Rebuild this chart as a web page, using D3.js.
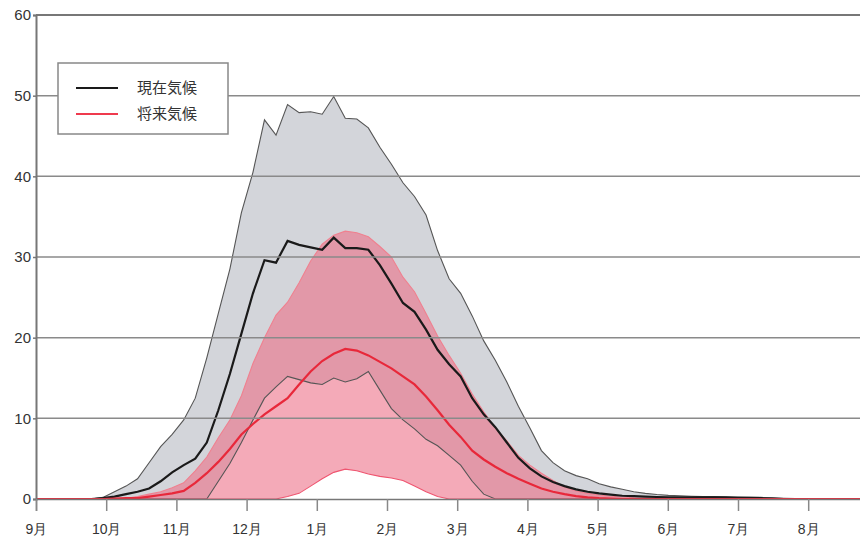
<!DOCTYPE html>
<html><head><meta charset="utf-8">
<script src="https://cdn.jsdelivr.net/npm/d3@7"></script>
<style>
html,body{margin:0;padding:0;background:#fff;}
svg{display:block;font-family:"Noto Sans CJK JP","Noto Sans",sans-serif;}
</style></head>
<body><svg id="chart" width="860" height="544"></svg>
<script>
// month tick labels
const monthLabels = ["9月","10月","11月","12月","1月","2月","3月","4月","5月","6月","7月","8月"];
const yTicks = [0,10,20,30,40,50,60];
const legendLabels = ["現在気候","将来気候"];
// pentad (5-day) series, 73 values from 9月 start
const currentMax = [0,0,0,0,0,0,0.2,0.9,1.6,2.5,4.5,6.5,8.0,9.8,12.5,17.5,23,28.5,35.5,40.5,47.0,45.1,48.9,47.9,48.0,47.7,49.9,47.2,47.1,46.0,43.6,41.5,39.2,37.5,35.2,30.8,27.3,25.5,22.7,19.6,17.2,14.5,11.5,8.8,6.0,4.5,3.5,2.9,2.5,1.9,1.5,1.2,0.9,0.7,0.55,0.45,0.4,0.35,0.3,0.3,0.25,0.25,0.2,0.2,0.15,0.1,0.05,0,0,0,0,0,0];
const currentMean = [0,0,0,0,0,0,0.1,0.3,0.6,0.9,1.3,2.2,3.3,4.2,5.0,7.0,11.0,15.5,20.5,25.5,29.6,29.3,32.0,31.5,31.2,30.9,32.4,31.1,31.1,30.9,29.0,26.7,24.3,23.2,21.0,18.5,16.7,15.2,12.5,10.5,8.9,7.0,5.1,3.8,2.8,2.1,1.6,1.2,0.9,0.7,0.55,0.4,0.35,0.3,0.25,0.2,0.2,0.2,0.2,0.2,0.2,0.15,0.15,0.1,0.05,0,0,0,0,0,0,0,0];
const currentMin = [0,0,0,0,0,0,0,0,0,0,0,0,0,0,0,0,2.2,4.4,7.0,9.8,12.5,13.9,15.2,14.8,14.4,14.2,15.0,14.5,14.9,15.8,13.5,11.2,9.8,8.7,7.4,6.6,5.4,4.2,2.2,0.6,0,0,0,0,0,0,0,0,0,0,0,0,0,0,0,0,0,0,0,0,0,0,0,0,0,0,0,0,0,0,0,0,0];
const futureMax = [0,0,0,0,0,0,0,0,0.1,0.3,0.6,0.9,1.4,2.0,3.5,5.2,7.6,9.8,12.8,16.8,20.0,22.8,24.4,26.8,29.5,31.6,32.7,33.2,33.0,32.5,31.3,30.0,27.5,25.7,23.0,20.2,17.8,15.6,13.0,10.8,8.8,7.2,5.4,4.2,3.2,2.3,1.5,1.0,0.7,0.5,0.35,0.25,0.15,0.1,0.05,0,0,0,0,0,0,0,0,0,0,0,0,0,0,0,0,0,0];
const futureMean = [0,0,0,0,0,0,0,0.05,0.1,0.1,0.3,0.5,0.7,1.0,2.0,3.2,4.6,6.2,8.0,9.3,10.5,11.5,12.5,14.2,15.8,17.1,18.0,18.6,18.4,17.8,17.0,16.2,15.2,14.2,12.7,11.0,9.2,7.7,6.0,4.9,4.0,3.2,2.5,1.9,1.3,0.9,0.6,0.35,0.2,0.1,0.05,0,0,0,0,0,0,0,0,0,0,0,0,0,0,0,0,0,0,0,0,0,0];
const futureMin = [0,0,0,0,0,0,0,0,0,0,0,0,0,0,0,0,0,0,0,0,0,0,0.3,0.7,1.6,2.5,3.3,3.7,3.5,3.1,2.8,2.6,2.3,1.6,0.9,0.3,0,0,0,0,0,0,0,0,0,0,0,0,0,0,0,0,0,0,0,0,0,0,0,0,0,0,0,0,0,0,0,0,0,0,0,0,0];

const svg = d3.select("#chart");
const x0 = 36, xEnd = 36 + 12*70.2;
const xM = d3.scaleLinear().domain([0,12]).range([x0, xEnd]);
const xP = d3.scaleLinear().domain([0.2,73.2]).range([x0, xEnd]);
const y = d3.scaleLinear().domain([0,60]).range([499,15]);
const idx = d3.range(currentMean.length);

svg.append("clipPath").attr("id","pc").append("rect")
  .attr("x",x0).attr("y",0).attr("width",xEnd-x0).attr("height",500);
const plot = svg.append("g").attr("clip-path","url(#pc)");

const band = (lo,hi) => d3.area().x(i=>xP(i)).y0(i=>y(lo[i])).y1(i=>y(hi[i]));
const line = arr => d3.line().x(i=>xP(i)).y(i=>y(arr[i]));

plot.append("path").datum(idx).attr("d",band(currentMin,currentMax)).attr("fill","#d3d5da");
plot.append("path").datum(idx).attr("d",band(futureMin,futureMax)).attr("fill","rgb(236,108,132)").attr("fill-opacity",0.58);

// gridlines
const grid = svg.append("g");
yTicks.filter(t=>t>0).forEach(t=>{
  grid.append("line").attr("x1",x0).attr("x2",860).attr("y1",y(t)).attr("y2",y(t))
    .attr("stroke", t===60 ? "#777" : "#8a8a8a").attr("stroke-width", t===60?2:1.5);
});

plot.append("path").datum(idx).attr("d",line(currentMax)).attr("fill","none").attr("stroke","#555").attr("stroke-width",1.1);
plot.append("path").datum(idx).attr("d",line(currentMin)).attr("fill","none").attr("stroke","#555").attr("stroke-width",1.1);
plot.append("path").datum(idx).attr("d",line(futureMax)).attr("fill","none").attr("stroke","#f0808f").attr("stroke-width",1.1);
plot.append("path").datum(idx).attr("d",line(futureMin)).attr("fill","none").attr("stroke","#ef5570").attr("stroke-width",1.1);
plot.append("path").datum(idx).attr("d",line(currentMean)).attr("fill","none").attr("stroke","#1a1a1a").attr("stroke-width",2.2);
plot.append("path").datum(idx).attr("d",line(futureMean)).attr("fill","none").attr("stroke","#e8283a").attr("stroke-width",2.2);

// axes
const yAxis = svg.append("g").attr("transform",`translate(${x0},0)`)
  .call(d3.axisLeft(y).tickValues(yTicks).tickSize(3).tickPadding(2));
yAxis.select(".domain").attr("stroke","#777").attr("stroke-width",2);
yAxis.selectAll(".tick line").attr("stroke","#777").attr("stroke-width",1.5);
yAxis.selectAll("text").attr("font-size",15).attr("fill","#333");

const xAxis = svg.append("g").attr("transform",`translate(0,499)`)
  .call(d3.axisBottom(xM).tickValues(d3.range(12)).tickFormat(i=>monthLabels[i]).tickSize(12).tickPadding(13));
xAxis.select(".domain").attr("stroke","#777").attr("stroke-width",1.5);
xAxis.selectAll(".tick line").attr("stroke","#888").attr("stroke-width",1.5);
xAxis.selectAll("text").attr("font-size",14).attr("fill","#333");

// legend
const lg = svg.append("g");
lg.append("rect").attr("x",58).attr("y",63).attr("width",170).attr("height",71)
  .attr("fill","#fff").attr("stroke","#888").attr("stroke-width",1.5);
const lcol = ["#1a1a1a","#ef3a4e"];
legendLabels.forEach((t,i)=>{
  const yy = 88 + i*26;
  lg.append("line").attr("x1",76).attr("x2",118).attr("y1",yy).attr("y2",yy).attr("stroke",lcol[i]).attr("stroke-width",2.2);
  lg.append("text").attr("x",137).attr("y",yy).attr("dy","0.36em").attr("font-size",15).attr("fill","#333").text(t);
});
</script></body></html>
